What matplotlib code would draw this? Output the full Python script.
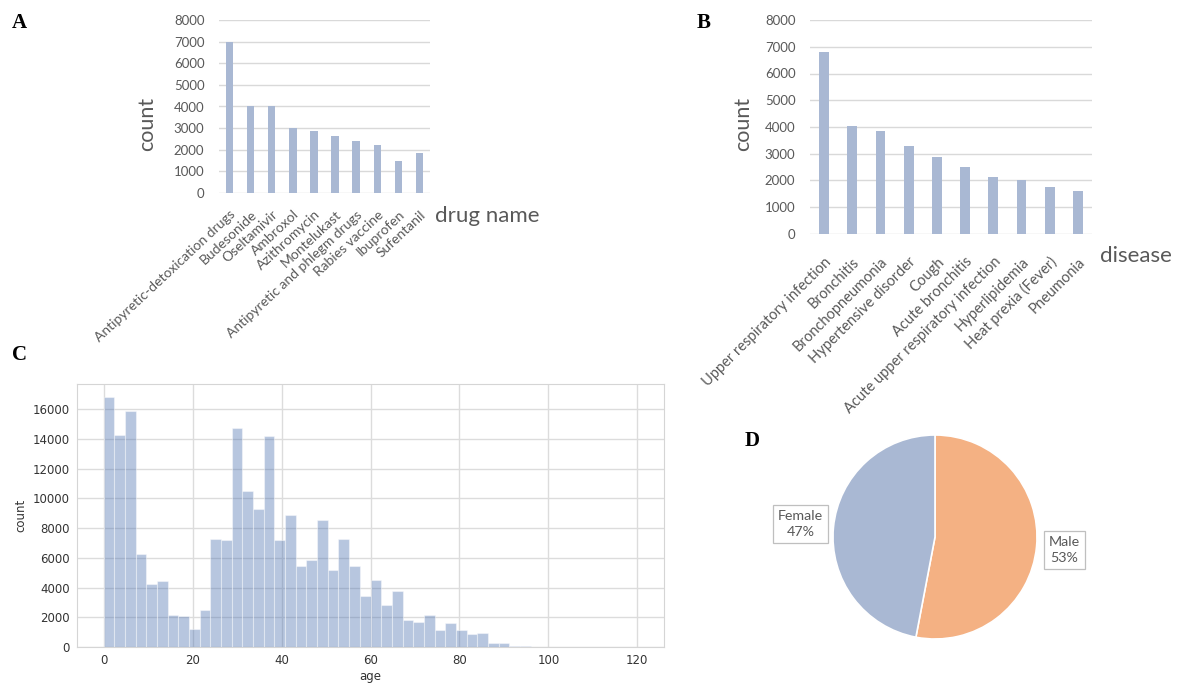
import numpy as np
import matplotlib
matplotlib.use('Agg')
import matplotlib.pyplot as plt

# --- data
drug_names = ['Antipyretic-detoxication drugs', 'Budesonide', 'Oseltamivir', 'Ambroxol',
              'Azithromycin', 'Montelukast', 'Antipyretic and phlegm drugs', 'Rabies vaccine',
              'Ibuprofen', 'Sufentanil']
drug_counts = [7000, 4030, 4030, 3020, 2850, 2650, 2400, 2200, 1460, 1850]

diseases = ['Upper respiratory infection', 'Bronchitis', 'Bronchopneumonia',
            'Hypertensive disorder', 'Cough', 'Acute bronchitis',
            'Acute upper respiratory infection', 'Hyperlipidemia', 'Heat prexia (Fever)',
            'Pneumonia']
disease_counts = [6810, 4050, 3850, 3290, 2890, 2500, 2120, 2010, 1760, 1620]

# age histogram: 50 bins over 0-120
age_edges = np.linspace(0, 120, 51)
age_counts = [16800, 14300, 15900, 6250, 4230, 4430, 2150, 2100, 1220, 2480,
              7250, 7180, 14750, 10480, 9300, 14180, 7180, 8860, 5420, 5850,
              8560, 5200, 7260, 5470, 3410, 4530, 2800, 3740, 1840, 1680,
              2150, 1120, 1640, 1140, 850, 920, 270, 250, 60, 40,
              20, 10, 8, 5, 3, 2, 2, 1, 1, 1]

sex_labels = ['Male', 'Female']
sex_share = [53, 47]

# --- styles
W, H = 1180, 684
xl_font = 'Lato'
xl_grey = '#595959'
xl_grid = '#d9d9d9'
bar_col = '#a9b8d3'

fig = plt.figure(figsize=(W / 100, H / 100), dpi=100)


def fx(px):
    return px / W


def fy(py):
    return 1 - py / H


def excel_bar(ax, names, counts, xlabel, xlab_pos, ylab_pos, lab_size, lab_rot, lab_pad):
    x = np.arange(len(names))
    ax.bar(x, counts, width=0.35, color=bar_col, zorder=3)
    ax.set_xlim(-0.5, len(names) - 0.5)
    ax.set_ylim(0, 8000)
    ax.set_yticks(np.arange(0, 8001, 1000))
    ax.yaxis.grid(True, color=xl_grid, linewidth=1)
    ax.set_axisbelow(True)
    for s in ax.spines.values():
        s.set_visible(False)
    ax.tick_params(length=0, labelcolor=xl_grey, labelsize=9.5)
    ax.set_xticks(x)
    ax.set_xticklabels(names, rotation=lab_rot, ha='right', rotation_mode='anchor',
                       fontsize=lab_size, family=xl_font, color=xl_grey)
    for t in ax.get_yticklabels():
        t.set_family(xl_font)
    ax.tick_params(axis='x', pad=lab_pad)
    ax.tick_params(axis='y', pad=10.5)
    fig.text(fx(xlab_pos[0]), fy(xlab_pos[1]), xlabel, fontsize=16, family=xl_font,
             color=xl_grey, ha='left', va='center')
    fig.text(fx(ylab_pos[0]), fy(ylab_pos[1]), 'count', fontsize=15.5, family=xl_font,
             color=xl_grey, rotation=90, ha='center', va='center')


# --- A
axA = fig.add_axes([fx(219), fy(193), fx(211), 173 / H])
excel_bar(axA, drug_names, drug_counts, 'drug name', (435, 216), (147, 124), 10, 43, 11)

# --- B
axB = fig.add_axes([fx(810), fy(234), fx(282), 214 / H])
excel_bar(axB, diseases, disease_counts, 'disease', (1100, 256), (743, 124), 10.5, 45, 15)

# --- C
axC = fig.add_axes([fx(77), fy(647), fx(587), 263 / H])
axC.bar(age_edges[:-1], age_counts, width=np.diff(age_edges), align='edge',
        color='#4c72b0', alpha=0.4, edgecolor='white', linewidth=0.8, zorder=3)
axC.set_xlim(-6, 126)
axC.set_ylim(0, 17700)
axC.set_xticks(np.arange(0, 121, 20))
axC.set_yticks(np.arange(0, 16001, 2000))
axC.grid(True, color='#dcdcdc', linewidth=1)
axC.set_axisbelow(True)
for s in axC.spines.values():
    s.set_color('#d5d5d5')
axC.tick_params(length=0, labelsize=8.5, labelcolor='#333333', pad=5)
axC.set_xlabel('age', fontsize=8.5, color='#333333', labelpad=2)
axC.set_ylabel('count', fontsize=8.5, color='#333333', labelpad=4)

# --- D
axD = fig.add_axes([fx(833), fy(639), fx(204), 204 / H])
axD.pie(sex_share, colors=['#f4b183', bar_col], startangle=90, counterclock=False,
        wedgeprops=dict(edgecolor='white', linewidth=1.2))
axD.set_xlim(-1, 1)
axD.set_ylim(-1, 1)
lab_pos = {'Male': (1.27, -0.13), 'Female': (-1.32, 0.13)}
for name, share in zip(sex_labels, sex_share):
    px, py = lab_pos[name]
    axD.text(px, py, f'{name}\n{share}%', ha='center', va='center', fontsize=10.3,
             family=xl_font, color=xl_grey, linespacing=1.4, clip_on=False,
             bbox=dict(boxstyle='square,pad=0.35', fc='white', ec='#bfbfbf', lw=0.9))

# panel letters
for letter, (px, py) in {'A': (12, 23), 'B': (697, 23), 'C': (12, 355), 'D': (745, 441)}.items():
    fig.text(fx(px), fy(py), letter, fontsize=15, fontweight='bold',
             family='Liberation Serif', ha='left', va='center')

fig.savefig('out.png', dpi=100)
